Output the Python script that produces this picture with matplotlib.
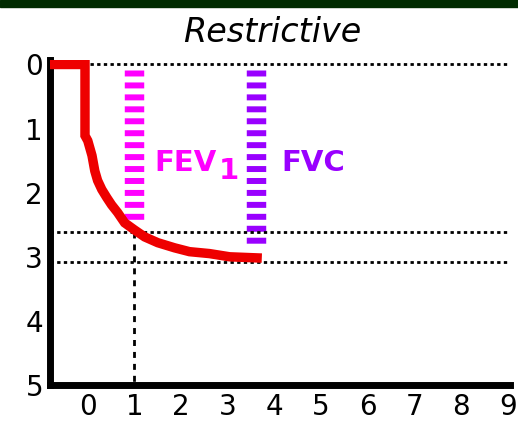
import matplotlib
matplotlib.use("Agg")
import matplotlib.pyplot as plt

# ---- data ----
time_s = [-0.81, -0.06, -0.06, 0.0, 0.09, 0.15, 0.21, 0.30, 0.41, 0.51, 0.64,
          0.79, 1.0, 1.22, 1.5, 1.86, 2.18, 2.61, 3.04, 3.73]
volume_l = [0, 0, 1.11, 1.19, 1.42, 1.66, 1.81, 1.95, 2.08, 2.19, 2.31,
            2.47, 2.58, 2.69, 2.78, 2.86, 2.92, 2.95, 3.0, 3.02]
fev1_time = 1.0
fev1_value = 2.61
fev1_bar_range = [0.08, 2.45]
fvc_time = 3.6
fvc_value = 3.08
fvc_bar_range = [0.08, 2.83]
x_ticks = [0, 1, 2, 3, 4, 5, 6, 7, 8, 9]
y_ticks = [0, 1, 2, 3, 4, 5]
title = "Restrictive"

plt.rcParams['lines.scale_dashes'] = False
W, H = 518, 447
fig = plt.figure(figsize=(W / 100, H / 100), dpi=100)
fig.patch.set_facecolor('white')

# dark green band at top
fig.patches.append(plt.Rectangle((0, 1 - 7 / H), 1, 7 / H, transform=fig.transFigure,
                                 color='#002B00', zorder=0))

ax = fig.add_axes([50 / W, (H - 385) / H, 460 / W, (385 - 60) / H])
ax.set_xlim(-0.81, 9.05)
ax.set_ylim(5.0, -0.07)

xmin, xmax = ax.get_xlim()
# dotted reference lines
ax.plot([xmin, xmax], [0, 0], color='black', lw=2, dashes=(2.4, 2.4), zorder=1)
ax.plot([xmin, xmax], [fev1_value, fev1_value], color='black', lw=2, dashes=(2.4, 2.4), zorder=3)
ax.plot([xmin, xmax], [fvc_value, fvc_value], color='black', lw=2, dashes=(2.4, 2.4), zorder=3)
ax.plot([fev1_time, fev1_time], [fev1_value, 5.0], color='black', lw=2, dashes=(4.3, 4.3), zorder=3)

# thick dashed markers
ax.plot([fev1_time, fev1_time], fev1_bar_range, color='#FF00FF', lw=14,
        dashes=(4.3, 4.3), zorder=2)
ax.plot([fvc_time, fvc_time], fvc_bar_range, color='#9900FF', lw=14,
        dashes=(4.3, 4.3), zorder=2)

# spirometry curve
ax.plot(time_s, volume_l, color='#EE0000', lw=6.8, solid_joinstyle='miter',
        solid_capstyle='butt', zorder=4)

# labels
ax.text(1.43, 1.66, 'FEV', color='#FF00FF', fontsize=21, fontweight='bold',
        ha='left', va='baseline')
ax.text(2.8, 1.78, '1', color='#FF00FF', fontsize=21, fontweight='bold',
        ha='left', va='baseline')
ax.text(4.15, 1.66, 'FVC', color='#9900FF', fontsize=21, fontweight='bold',
        ha='left', va='baseline')

fig.text(272 / W, 1 - 42 / H, title, fontsize=24, fontstyle='italic',
         ha='center', va='baseline', color='black')

for s in ['top', 'right']:
    ax.spines[s].set_visible(False)
for s in ['left', 'bottom']:
    ax.spines[s].set_linewidth(5)
    ax.spines[s].set_color('black')
    ax.spines[s].set_capstyle('projecting')

ax.set_xticks(x_ticks)
ax.set_yticks(y_ticks)
ax.set_xticklabels([str(v) for v in x_ticks])
ax.set_yticklabels([str(v) for v in y_ticks])
ax.tick_params(axis='both', length=0, labelsize=20, colors='black')
ax.tick_params(axis='x', pad=6)
ax.tick_params(axis='y', pad=5)
ax.set_facecolor('white')

fig.savefig('out.png', dpi=100)
